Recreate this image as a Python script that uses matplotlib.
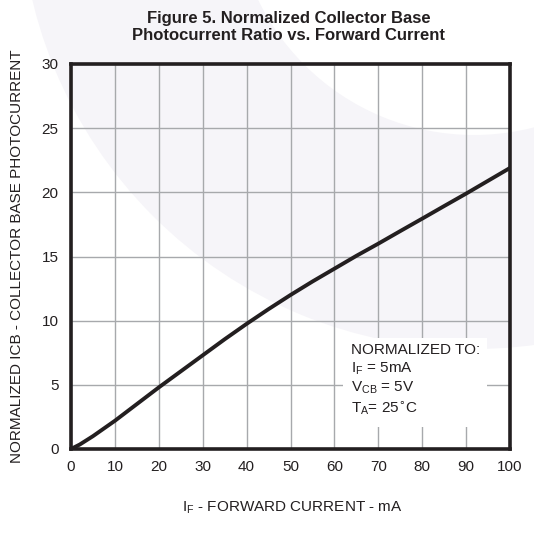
import matplotlib.pyplot as plt
from matplotlib.patches import Wedge, Rectangle

# curve
forward_ma = [0, 2, 5, 10, 15, 20, 25, 30, 35, 40, 45, 50, 55, 60, 65, 70, 75, 80, 85, 90, 95, 100]
ratio = [0, 0.35, 1.0, 2.2, 3.5, 4.8, 6.05, 7.3, 8.55, 9.75, 10.9, 12.0, 13.05, 14.05, 15.05, 16.0,
         16.98, 17.95, 18.93, 19.9, 20.9, 21.9]

x_ticks = list(range(0, 101, 10))
y_ticks = list(range(0, 31, 5))

plt.rcParams['font.family'] = ['Liberation Sans', 'DejaVu Sans']
ink = '#231f20'

fig = plt.figure(figsize=(5.34, 5.38), dpi=100)

# faint watermark arc behind everything (pixel coordinates)
bg = fig.add_axes([0, 0, 1, 1], zorder=-1)
bg.set_xlim(0, 534)
bg.set_ylim(538, 0)
bg.axis('off')
bg.add_patch(Wedge((474, -105), 454, 0, 360, width=214, color='#f6f5f9', lw=0))

L, R, T, B = 71, 510, 64, 449
ax = fig.add_axes([L / 534, 1 - B / 538, (R - L) / 534, (B - T) / 538])
ax.patch.set_alpha(0)
ax.plot(forward_ma, ratio, color=ink, lw=2.8, solid_capstyle='round', solid_joinstyle='round', zorder=3)

ax.set_xlim(0, 100)
ax.set_ylim(0, 30)
ax.set_xticks(x_ticks)
ax.set_yticks(y_ticks)
ax.tick_params(length=0, labelsize=11, colors=ink)
ax.tick_params(axis='y', pad=9)
ax.tick_params(axis='x', pad=8)
ax.grid(True, color='#a7a9ac', lw=1)
for s in ax.spines.values():
    s.set_linewidth(2.6)
    s.set_color(ink)

# white box behind the note
ax.add_patch(Rectangle((0.62, 0.057), 0.328, 0.231, transform=ax.transAxes,
                       facecolor='white', edgecolor='none', zorder=2))
ax.text(0.638, 0.275,
        'NORMALIZED TO:\n$\\mathregular{I_F}$ = 5mA\n$\\mathregular{V_{CB}}$ = 5V\n$\\mathregular{T_A}$= 25$^{\\circ}$C',
        transform=ax.transAxes, fontsize=11, color=ink, va='top', ha='left',
        linespacing=1.25, zorder=4)

fig.text(289 / 534, 1 - 27 / 538,
         'Figure 5. Normalized Collector Base\nPhotocurrent Ratio vs. Forward Current',
         ha='center', va='center', fontsize=12, fontweight='bold', color=ink, linespacing=1.2)
fig.text(292 / 534, 1 - 508 / 538, '$\\mathregular{I_F}$ - FORWARD CURRENT - mA',
         ha='center', va='center', fontsize=11, color=ink)
fig.text(17 / 534, 1 - 256 / 538, 'NORMALIZED ICB - COLLECTOR BASE PHOTOCURRENT',
         ha='center', va='center', rotation=90, fontsize=11, color=ink)

fig.savefig('out.png', dpi=100)
